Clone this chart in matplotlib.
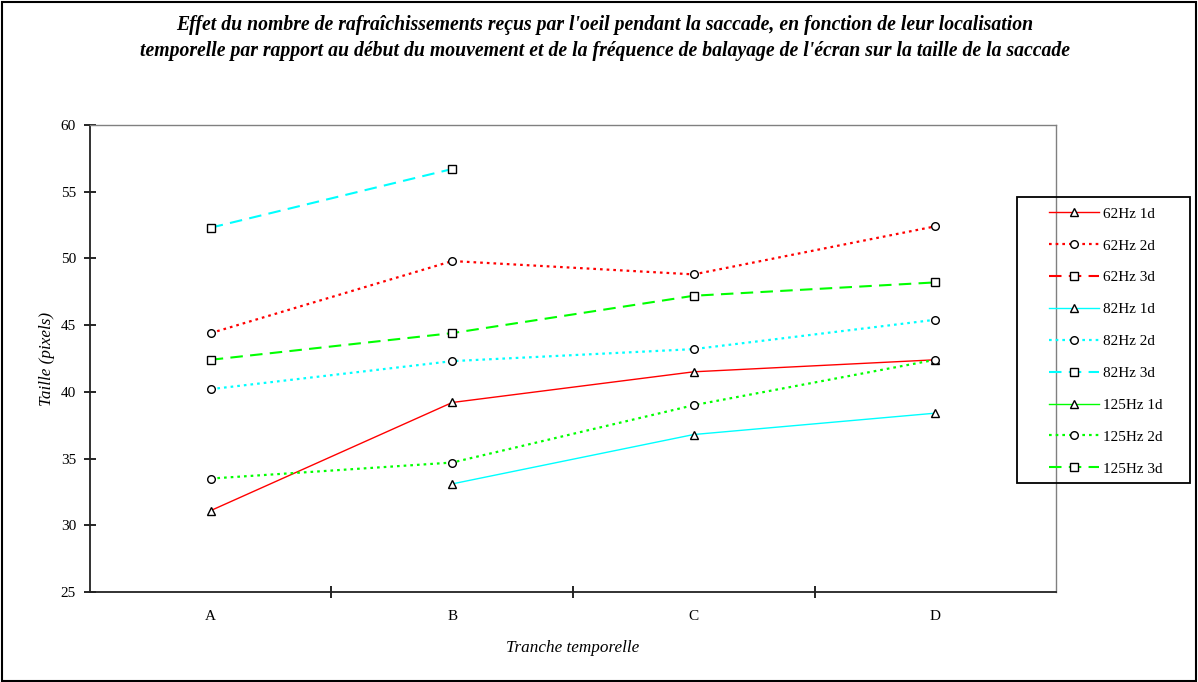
import numpy as np
import matplotlib
matplotlib.use("Agg")
import matplotlib.pyplot as plt
from matplotlib.patches import Rectangle

plt.rcParams['font.family'] = ['Liberation Serif', 'DejaVu Serif']

categories = ['A', 'B', 'C', 'D']
nan = np.nan

# values (NaN = no point)
hz62_1d = [31.1, 39.2, 41.5, 42.4]
hz62_2d = [44.4, 49.8, 48.8, 52.4]
hz62_3d = [nan, nan, nan, nan]
hz82_1d = [nan, 33.1, 36.8, 38.4]
hz82_2d = [40.2, 42.3, 43.2, 45.4]
hz82_3d = [52.3, 56.7, nan, nan]
hz125_1d = [nan, nan, nan, nan]
hz125_2d = [33.5, 34.7, 39.0, 42.4]
hz125_3d = [42.4, 44.4, 47.2, 48.2]

labels = ['62Hz 1d', '62Hz 2d', '62Hz 3d',
          '82Hz 1d', '82Hz 2d', '82Hz 3d',
          '125Hz 1d', '125Hz 2d', '125Hz 3d']
series = [hz62_1d, hz62_2d, hz62_3d, hz82_1d, hz82_2d, hz82_3d,
          hz125_1d, hz125_2d, hz125_3d]

colors = ['#ff0000'] * 3 + ['#00ffff'] * 3 + ['#00ff00'] * 3
styles = [('-', 1.0, '^'), ((0, (1.2, 1.8)), 1.6, 'o'), ((0, (6, 3.5)), 1.5, 's')] * 3

fig = plt.figure(figsize=(11.98, 6.82), dpi=100)
ax = fig.add_axes([0.0751, 0.132, 0.8064, 0.6848])

x = np.arange(len(categories))
handles = []
for vals, lab, col, (ls, lw, mk) in zip(series, labels, colors, styles):
    h, = ax.plot(x, vals, linestyle=ls, linewidth=lw, color=col, marker=mk,
                 markersize=5.5, markerfacecolor='white', markeredgecolor='black',
                 markeredgewidth=1.0, label=lab)
    handles.append(h)

ax.set_xlim(-0.5, 3.5)
ax.set_ylim(25, 60)
ax.set_yticks(np.arange(25, 61, 5))
ax.set_xticks(x)
ax.set_xticklabels(categories)
ax.set_xticks([0.5, 1.5, 2.5], minor=True)
ax.tick_params(axis='x', which='major', length=0, pad=13, labelsize=11)
ax.tick_params(axis='x', which='minor', length=8, direction='inout', width=1.2)
ax.tick_params(axis='y', length=8, direction='inout', width=1.2, labelsize=11, pad=6)

for s in ['left', 'bottom']:
    ax.spines[s].set_color('#222222')
    ax.spines[s].set_linewidth(1.3)
for s in ['top', 'right']:
    ax.spines[s].set_color('#808080')
    ax.spines[s].set_linewidth(1.0)

ax.set_ylabel('Taille (pixels)', fontstyle='italic', fontsize=12.3, labelpad=4)
ax.set_xlabel('Tranche temporelle', fontstyle='italic', fontsize=12.3, labelpad=12)

fig.text(0.505, 0.978,
         "Effet du nombre de rafraîchissements reçus par l'oeil pendant la saccade, en fonction de leur localisation\n"
         "temporelle par rapport au début du mouvement et de la fréquence de balayage de l'écran sur la taille de la saccade",
         ha='center', va='top', fontsize=14.2, fontweight='bold', fontstyle='italic', linespacing=1.4)

# legend without its own frame, the box is drawn separately
leg = fig.legend(handles=handles, loc='upper left',
                 bbox_to_anchor=(1049 / 1198, 1 - 207 / 682),
                 fontsize=11, frameon=False, borderaxespad=0, borderpad=0,
                 handlelength=3.27, labelspacing=1.19, handletextpad=0.26)
fig.patches.append(Rectangle((1017 / 1198, 1 - 483 / 682), 173 / 1198, 286 / 682,
                             transform=fig.transFigure, fill=False,
                             edgecolor='black', linewidth=1.3))

fig.patches.append(Rectangle((0.002, 0.002), 0.996, 0.995, transform=fig.transFigure,
                             fill=False, edgecolor='black', linewidth=1.5))

fig.savefig('out.png', dpi=100)
